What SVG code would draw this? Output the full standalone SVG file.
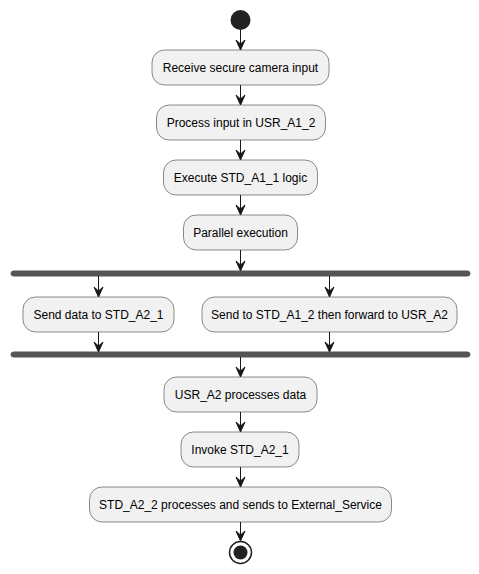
<svg xmlns="http://www.w3.org/2000/svg" width="479" height="574" viewBox="0 0 479 574">
<defs>
<style>
.box{fill:#F1F1F1;stroke:#181818;stroke-width:0.5}
.t{font-family:"Liberation Sans",Arial,sans-serif;font-size:12px;fill:#000;text-anchor:middle}
.bar{fill:#555555;stroke:#555555}
.ln{stroke:#181818;stroke-width:1;fill:none}
.ah{fill:#181818;stroke:#181818}
</style>
</defs>
<rect width="479" height="574" fill="#FFFFFF"/>
<g id="start"><circle cx="240.5" cy="20" r="10" fill="#222222"/></g>
<g id="n1"><rect class="box" x="152" y="50" width="177" height="35" rx="12.5"/><text class="t" x="240.5" y="72">Receive secure camera input</text></g>
<g id="n2"><rect class="box" x="156.5" y="105" width="169" height="35" rx="12.5"/><text class="t" x="241" y="127">Process input in USR_A1_2</text></g>
<g id="n3"><rect class="box" x="163.5" y="160" width="154" height="35" rx="12.5"/><text class="t" x="240.5" y="182">Execute STD_A1_1 logic</text></g>
<g id="n4"><rect class="box" x="183.5" y="215" width="114" height="35" rx="12.5"/><text class="t" x="240.5" y="237">Parallel execution</text></g>
<g id="fork"><rect class="bar" x="11" y="271" width="459" height="5" rx="2.5"/></g>
<g id="n5"><rect class="box" x="23" y="297" width="151" height="35" rx="12.5"/><text class="t" x="98.5" y="319">Send data to STD_A2_1</text></g>
<g id="n6"><rect class="box" x="202" y="297" width="255" height="35" rx="12.5"/><text class="t" x="329.5" y="319">Send to STD_A1_2 then forward to USR_A2</text></g>
<g id="join"><rect class="bar" x="11" y="352" width="459" height="5" rx="2.5"/></g>
<g id="n7"><rect class="box" x="164" y="377" width="153" height="35" rx="12.5"/><text class="t" x="240.5" y="399">USR_A2 processes data</text></g>
<g id="n8"><rect class="box" x="181" y="432" width="118" height="35" rx="12.5"/><text class="t" x="240" y="454">Invoke STD_A2_1</text></g>
<g id="n9"><rect class="box" x="89.5" y="487" width="302" height="35" rx="12.5"/><text class="t" x="240.5" y="509">STD_A2_2 processes and sends to External_Service</text></g>
<g id="end"><circle cx="240.5" cy="552.5" r="11" fill="#FFFFFF" stroke="#222222" stroke-width="1.5"/><circle cx="240.5" cy="552.5" r="7" fill="#222222"/></g>
<g id="connectors">
<line class="ln" x1="240.5" y1="30" x2="240.5" y2="48"/><polygon class="ah" points="236,40 240.5,50 245,40 240.5,44"/>
<line class="ln" x1="240.5" y1="85" x2="240.5" y2="103"/><polygon class="ah" points="236,95 240.5,105 245,95 240.5,99"/>
<line class="ln" x1="240.5" y1="140" x2="240.5" y2="158"/><polygon class="ah" points="236,150 240.5,160 245,150 240.5,154"/>
<line class="ln" x1="240.5" y1="195" x2="240.5" y2="213"/><polygon class="ah" points="236,205 240.5,215 245,205 240.5,209"/>
<line class="ln" x1="240.5" y1="250" x2="240.5" y2="269"/><polygon class="ah" points="236,261 240.5,271 245,261 240.5,265"/>
<line class="ln" x1="98.5" y1="276" x2="98.5" y2="295"/><polygon class="ah" points="94,287 98.5,297 103,287 98.5,291"/>
<line class="ln" x1="329.5" y1="276" x2="329.5" y2="295"/><polygon class="ah" points="325,287 329.5,297 334,287 329.5,291"/>
<line class="ln" x1="98.5" y1="332" x2="98.5" y2="350"/><polygon class="ah" points="94,342 98.5,352 103,342 98.5,346"/>
<line class="ln" x1="329.5" y1="332" x2="329.5" y2="350"/><polygon class="ah" points="325,342 329.5,352 334,342 329.5,346"/>
<line class="ln" x1="240.5" y1="357" x2="240.5" y2="375"/><polygon class="ah" points="236,367 240.5,377 245,367 240.5,371"/>
<line class="ln" x1="240.5" y1="412" x2="240.5" y2="430"/><polygon class="ah" points="236,422 240.5,432 245,422 240.5,426"/>
<line class="ln" x1="240.5" y1="467" x2="240.5" y2="485"/><polygon class="ah" points="236,477 240.5,487 245,477 240.5,481"/>
<line class="ln" x1="240.5" y1="522" x2="240.5" y2="539"/><polygon class="ah" points="236,531 240.5,541 245,531 240.5,535"/>
</g>
</svg>
